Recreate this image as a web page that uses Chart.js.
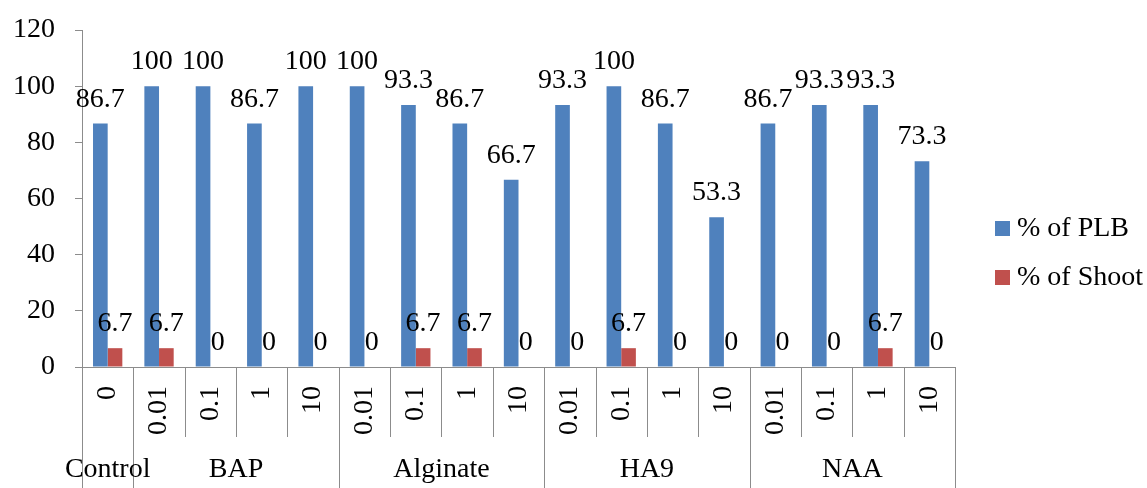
<!DOCTYPE html>
<html>
<head>
<meta charset="utf-8">
<script src="https://cdn.jsdelivr.net/npm/chart.js@4.4.0/dist/chart.umd.min.js"></script>
<style>
html, body { margin: 0; padding: 0; background: #fff; }
#wrap { width: 1147px; height: 488px; }
</style>
</head>
<body>
<div id="wrap"><canvas id="myChart" width="1147" height="488"></canvas></div>
<script>
// данные с картинки
const doses = ['0', '0.01', '0.1', '1', '10', '0.01', '0.1', '1', '10', '0.01', '0.1', '1', '10', '0.01', '0.1', '1', '10'];
const groups = ['Control', 'BAP', 'Alginate', 'HA9', 'NAA'];
const groupSizes = [1, 4, 4, 4, 4];
const plb = [86.7, 100, 100, 86.7, 100, 100, 93.3, 86.7, 66.7, 93.3, 100, 86.7, 53.3, 86.7, 93.3, 93.3, 73.3];
const shoot = [6.7, 6.7, 0, 0, 0, 0, 6.7, 6.7, 0, 0, 6.7, 0, 0, 0, 0, 6.7, 0];
const seriesNames = ['% of PLB', '% of Shoot'];

const FONT = 'Liberation Serif';
const FSIZE = 28;
const axisColor = '#8c8c8c';

// подписи значений над столбиками
const valueLabels = {
    id: 'valueLabels',
    afterDatasetsDraw(chart) {
        const ctx = chart.ctx;
        ctx.save();
        ctx.font = `${FSIZE}px "${FONT}"`;
        ctx.fillStyle = '#000';
        ctx.textAlign = 'center';
        ctx.textBaseline = 'alphabetic';
        chart.data.datasets.forEach((ds, i) => {
            chart.getDatasetMeta(i).data.forEach((bar, j) => {
                ctx.fillText(String(ds.data[j]), bar.x, bar.y - 17);
            });
        });
        ctx.restore();
    }
};

// разделители категорий, группы и легенда
const groupAxis = {
    id: 'groupAxis',
    afterDraw(chart) {
        const ctx = chart.ctx;
        const x = chart.scales.x;
        const top = chart.chartArea.bottom;
        const half = (x.getPixelForValue(1) - x.getPixelForValue(0)) / 2;
        const bounds = [0];
        groupSizes.forEach(s => bounds.push(bounds[bounds.length - 1] + s));

        ctx.save();
        ctx.strokeStyle = axisColor;
        ctx.lineWidth = 1;
        for (let i = 0; i <= doses.length; i++) {
            const px = Math.round(x.getPixelForValue(i) - half) + 0.5;
            const full = bounds.includes(i);
            ctx.beginPath();
            ctx.moveTo(px, top);
            ctx.lineTo(px, full ? chart.height : top + 70);
            ctx.stroke();
        }

        ctx.font = `${FSIZE}px "${FONT}"`;
        ctx.fillStyle = '#000';
        ctx.textAlign = 'center';
        ctx.textBaseline = 'middle';
        groups.forEach((g, k) => {
            const a = x.getPixelForValue(bounds[k]) - half;
            const b = x.getPixelForValue(bounds[k + 1]) - half;
            ctx.fillText(g, (a + b) / 2, 470);
        });

        // легенда
        ctx.textAlign = 'left';
        chart.data.datasets.forEach((ds, i) => {
            const cy = 228 + i * 49;
            ctx.fillStyle = ds.backgroundColor;
            ctx.fillRect(995, cy - 7, 15, 15);
            ctx.fillStyle = '#000';
            ctx.fillText(ds.label, 1017, cy + 1);
        });
        ctx.restore();
    }
};

const ctx = document.getElementById('myChart').getContext('2d');
const myChart = new Chart(ctx, {
    type: 'bar',
    data: {
        labels: doses,
        datasets: [
            { label: seriesNames[0], data: plb, backgroundColor: '#4f81bd' },
            { label: seriesNames[1], data: shoot, backgroundColor: '#c0504d' }
        ]
    },
    options: {
        responsive: false,
        animation: false,
        events: [],
        categoryPercentage: 0.571,
        barPercentage: 1,
        layout: { padding: { top: 30, right: 192, left: 0, bottom: 0 } },
        plugins: {
            legend: { display: false },
            tooltip: { enabled: false }
        },
        scales: {
            x: {
                grid: { display: false, drawTicks: false },
                border: { color: axisColor },
                ticks: {
                    color: '#000',
                    font: { family: FONT, size: FSIZE },
                    minRotation: 90,
                    maxRotation: 90,
                    autoSkip: false,
                    padding: 19
                },
                afterFit(scale) { scale.height = 121; }
            },
            y: {
                min: 0,
                max: 120,
                grid: { drawOnChartArea: false, drawTicks: true, tickLength: 7, color: axisColor },
                border: { color: axisColor },
                ticks: {
                    stepSize: 20,
                    color: '#000',
                    font: { family: FONT, size: FSIZE },
                    padding: 20
                },
                afterFit(scale) {
                    scale.width = 82;
                    scale.paddingTop = 0;
                    scale.paddingBottom = 0;
                }
            }
        }
    },
    plugins: [valueLabels, groupAxis]
});
</script>
</body>
</html>
